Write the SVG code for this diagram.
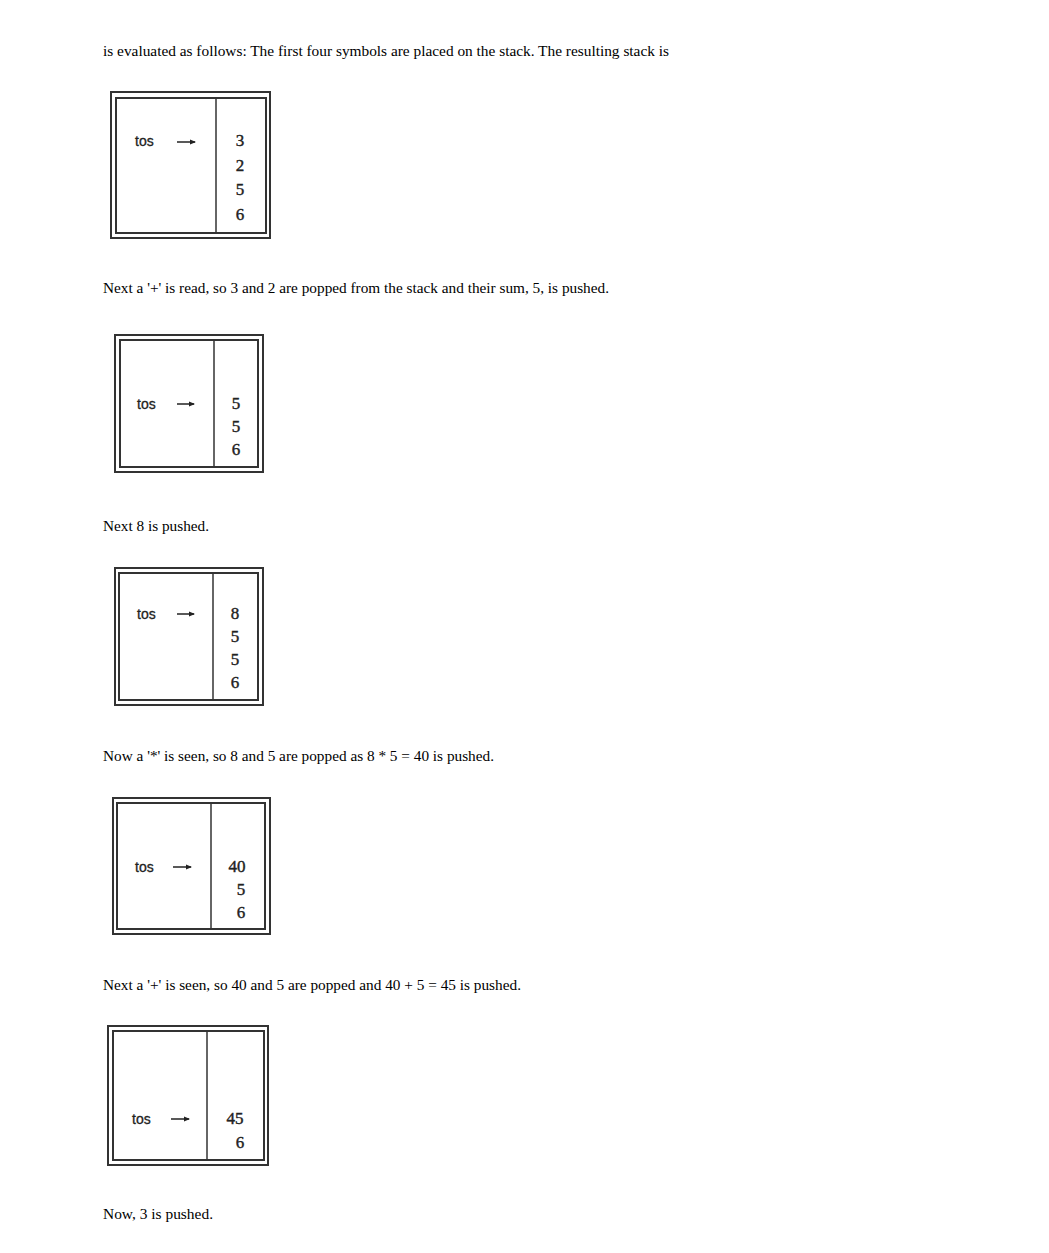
<svg xmlns="http://www.w3.org/2000/svg" width="1049" height="1253" viewBox="0 0 1049 1253">
<style>
.p{font-family:"Liberation Serif",serif;font-size:15px;fill:#000}
.frame{fill:none;stroke:#333;stroke-width:2}
.div{stroke:#333;stroke-width:1.5}
.tos{font-family:"Liberation Sans",sans-serif;font-size:14px;fill:#222;stroke:#222;stroke-width:0.3}
.n{font-family:"Liberation Serif",serif;font-size:17px;fill:#222;stroke:#222;stroke-width:0.4;text-anchor:middle}
.arr{stroke:#222;stroke-width:1.5;fill:none}
</style>
<defs>
<marker id="ah" markerWidth="6" markerHeight="6" refX="5" refY="3" orient="auto" markerUnits="userSpaceOnUse">
<path d="M0,0.5 L6,3 L0,5.5 Z" fill="#222"/>
</marker>
</defs>
<rect width="1049" height="1253" fill="#fff"/>
<g id="texts">
<text class="p" x="103" y="56" textLength="566" lengthAdjust="spacingAndGlyphs">is evaluated as follows: The first four symbols are placed on the stack. The resulting stack is</text>
<text class="p" x="103" y="293" textLength="506" lengthAdjust="spacingAndGlyphs">Next a '+' is read, so 3 and 2 are popped from the stack and their sum, 5, is pushed.</text>
<text class="p" x="103" y="531" textLength="106" lengthAdjust="spacingAndGlyphs">Next 8 is pushed.</text>
<text class="p" x="103" y="761" textLength="391" lengthAdjust="spacingAndGlyphs">Now a '*' is seen, so 8 and 5 are popped as 8 * 5 = 40 is pushed.</text>
<text class="p" x="103" y="990" textLength="418" lengthAdjust="spacingAndGlyphs">Next a '+' is seen, so 40 and 5 are popped and 40 + 5 = 45 is pushed.</text>
<text class="p" x="103" y="1219" textLength="110" lengthAdjust="spacingAndGlyphs">Now, 3 is pushed.</text>
</g>
<g id="stack1">
<rect class="frame" x="111" y="92" width="159" height="146"/>
<rect class="frame" x="116" y="98" width="150" height="135"/>
<line class="div" x1="216" y1="98" x2="216" y2="233"/>
<text class="tos" x="135" y="146">tos</text>
<line class="arr" x1="177" y1="142" x2="195" y2="142" marker-end="url(#ah)"/>
<text class="n" x="240" y="146">3</text>
<text class="n" x="240" y="171">2</text>
<text class="n" x="240" y="195">5</text>
<text class="n" x="240" y="220">6</text>
</g>
<g id="stack2">
<rect class="frame" x="115" y="335" width="148" height="137"/>
<rect class="frame" x="120" y="340" width="138" height="127"/>
<line class="div" x1="214" y1="340" x2="214" y2="467"/>
<text class="tos" x="137" y="409">tos</text>
<line class="arr" x1="177" y1="404" x2="194" y2="404" marker-end="url(#ah)"/>
<text class="n" x="236" y="409">5</text>
<text class="n" x="236" y="432">5</text>
<text class="n" x="236" y="455">6</text>
</g>
<g id="stack3">
<rect class="frame" x="115" y="568" width="148" height="137"/>
<rect class="frame" x="119" y="573" width="139" height="127"/>
<line class="div" x1="213" y1="573" x2="213" y2="700"/>
<text class="tos" x="137" y="619">tos</text>
<line class="arr" x1="177" y1="614" x2="194" y2="614" marker-end="url(#ah)"/>
<text class="n" x="235" y="619">8</text>
<text class="n" x="235" y="642">5</text>
<text class="n" x="235" y="665">5</text>
<text class="n" x="235" y="688">6</text>
</g>
<g id="stack4">
<rect class="frame" x="113" y="798" width="157" height="136"/>
<rect class="frame" x="117" y="803" width="148" height="126"/>
<line class="div" x1="211" y1="803" x2="211" y2="929"/>
<text class="tos" x="135" y="872">tos</text>
<line class="arr" x1="173" y1="867" x2="191" y2="867" marker-end="url(#ah)"/>
<text class="n" x="237" y="872">40</text>
<text class="n" x="241" y="895">5</text>
<text class="n" x="241" y="918">6</text>
</g>
<g id="stack5">
<rect class="frame" x="108" y="1026" width="160" height="139"/>
<rect class="frame" x="113" y="1031" width="151" height="129"/>
<line class="div" x1="207" y1="1031" x2="207" y2="1160"/>
<text class="tos" x="132" y="1124">tos</text>
<line class="arr" x1="171" y1="1119" x2="189" y2="1119" marker-end="url(#ah)"/>
<text class="n" x="235" y="1124">45</text>
<text class="n" x="240" y="1148">6</text>
</g>
</svg>
